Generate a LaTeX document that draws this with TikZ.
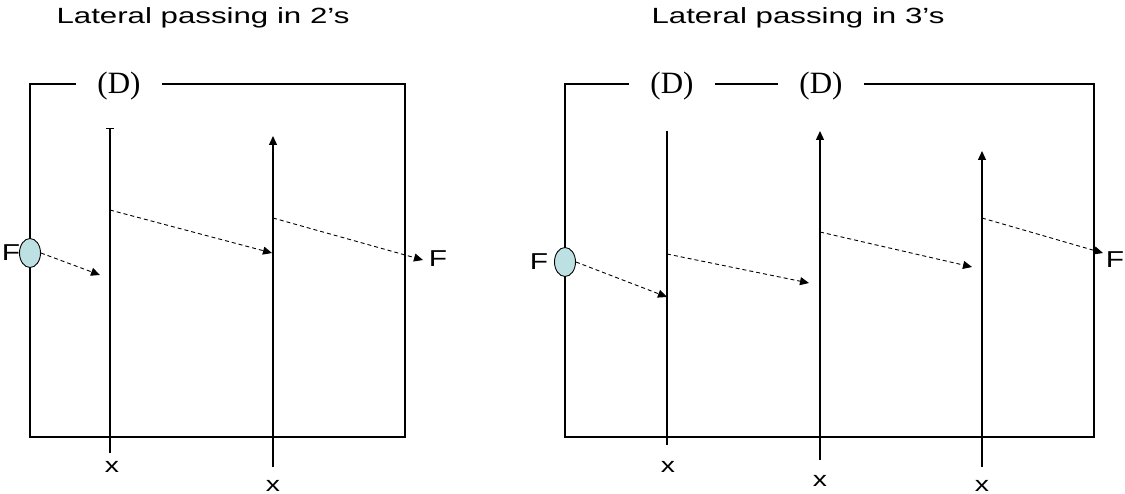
\documentclass[tikz,border=0pt]{standalone}
\usepackage{fontspec}
\setmainfont{Liberation Sans}
\newfontfamily\dfont{Liberation Serif}
\usepackage{xcolor}
\usetikzlibrary{
    arrows.meta,
    positioning,
    shapes.geometric
}
\definecolor{ballfill}{HTML}{BDE1E3}

\begin{document}
\begin{tikzpicture}[
x=1pt, y=-1pt,
field/.style={
draw,
line width=1.7pt
},
runline/.style={
line width=1.3pt
},
pass/.style={
line width=0.9pt,
dash pattern=on 4pt off 3pt,
-{Triangle[length=9pt,width=8pt]}
},
heading/.style={
font=\fontsize{22}{24}\selectfont,
xscale=1.42
},
letter/.style={
font=\fontsize{23}{25}\selectfont,
xscale=1.3
},
mark label/.style={
font=\fontsize{21}{23}\selectfont,
xscale=1.35,
inner sep=0pt
},
defender/.style={
font=\dfont\fontsize{31}{33}\selectfont,
fill=white,
inner xsep=21pt,
inner ysep=0pt
},
ball/.style={
draw,
ellipse,
line width=0.9pt,
fill=ballfill,
minimum width=21pt,
minimum height=29pt,
inner sep=0pt
}
]
\useasboundingbox (0,0) rectangle (1125,494);

\node[heading] (title2) at (203,18) {Lateral passing in 2’s};
\node[heading] (title3) at (798,18) {Lateral passing in 3’s};

\draw[field] (30,84) rectangle (405,437);
\draw[field] (565,84) rectangle (1094,437);

\node[defender] (dleft) at (119,86) {(D)};
\node[defender] (dmid) at (672,86) {(D)};
\node[defender] (dright) at (821,86) {(D)};

\coordinate (a1top) at (110,128);
\coordinate (a1bot) at (110,453);
\coordinate (a2top) at (273,136);
\coordinate (a2bot) at (273,467);

\draw[runline, {Bar[width=8pt]}-] (a1top) -- (a1bot);
\draw[runline, -{Triangle[length=9pt,width=8pt]}] (a2bot) -- (a2top);

\node[mark label] (xa1) at (112,467) {x};
\node[mark label] (xa2) at (273,486) {x};

\node[ball] (ballL) at (30,253) {};
\node[letter] (fa) at (11,253) {F};
\node[letter] (fb) at (438,259) {F};

\coordinate (pa1) at (100,275);
\coordinate (sa1) at (110,210);
\coordinate (pa2) at (272,253);
\coordinate (sa2) at (273,218);
\coordinate (pa3) at (423,260);

\draw[pass] (ballL.east) -- (pa1);
\draw[pass] (sa1) -- (pa2);
\draw[pass] (sa2) -- (pa3);

\coordinate (b1top) at (667,131);
\coordinate (b1bot) at (667,445);
\coordinate (b2top) at (820,131);
\coordinate (b2bot) at (820,460);
\coordinate (b3top) at (982,151);
\coordinate (b3bot) at (982,467);

\draw[runline] (b1top) -- (b1bot);
\draw[runline, -{Triangle[length=9pt,width=8pt]}] (b2bot) -- (b2top);
\draw[runline, -{Triangle[length=9pt,width=8pt]}] (b3bot) -- (b3top);

\node[mark label] (xb1) at (668,467) {x};
\node[mark label] (xb2) at (820,481) {x};
\node[mark label] (xb3) at (982,486) {x};

\node[ball] (ballR) at (565,262) {};
\node[letter] (fc) at (539,262) {F};
\node[letter] (fd) at (1115,260) {F};

\coordinate (pb1) at (667,297);
\coordinate (sb1) at (667,254);
\coordinate (pb2) at (809,283);
\coordinate (sb2) at (820,232);
\coordinate (pb3) at (972,267);
\coordinate (sb3) at (982,218);
\coordinate (pb4) at (1103,253);

\draw[pass] (ballR.east) -- (pb1);
\draw[pass] (sb1) -- (pb2);
\draw[pass] (sb2) -- (pb3);
\draw[pass] (sb3) -- (pb4);

\end{tikzpicture}
\end{document}
